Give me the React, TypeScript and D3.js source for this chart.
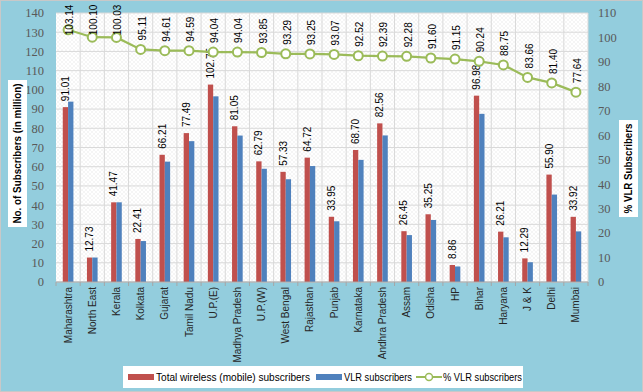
import React from "react";
import * as d3 from "d3";

// circles / LSAs along the x axis
const circles: string[] = [
  "Maharashtra", "North East", "Kerala", "Kolkata", "Gujarat", "Tamil Nadu",
  "U.P.(E)", "Madhya Pradesh", "U.P.(W)", "West Bengal", "Rajasthan", "Punjab",
  "Karnataka", "Andhra Pradesh", "Assam", "Odisha", "HP", "Bihar", "Haryana",
  "J & K", "Delhi", "Mumbai",
];

// total wireless subscribers (million)
const totalSubs: number[] = [
  91.01, 12.73, 41.47, 22.41, 66.21, 77.49, 102.75, 81.05, 62.79, 57.33, 64.72,
  33.95, 68.7, 82.56, 26.45, 35.25, 8.86, 96.98, 26.21, 12.29, 55.9, 33.92,
];

// VLR subscribers (million)
const vlrSubs: number[] = [
  93.87, 12.74, 41.48, 21.31, 62.64, 73.3, 96.63, 76.22, 58.93, 53.48, 60.35,
  31.6, 63.56, 76.28, 24.41, 32.29, 8.08, 87.52, 23.26, 10.28, 45.5, 26.34,
];

// % VLR subscribers
const vlrPct: number[] = [
  103.14, 100.1, 100.03, 95.11, 94.61, 94.59, 94.04, 94.04, 93.85, 93.29, 93.25,
  93.07, 92.52, 92.39, 92.28, 91.6, 91.15, 90.24, 88.75, 83.66, 81.4, 77.64,
];

const leftTicks = d3.range(0, 141, 10);
const rightTicks = d3.range(0, 111, 10);

const W = 643;
const H = 392;
const plot = { left: 56, right: 588, top: 13, bottom: 282 };

const RED = "#C0504D";
const BLUE = "#4F81BD";
const GREEN = "#9BBB59";
const BG = "#93CDDD";

const App: React.FC = () => {
  const x = d3
    .scaleBand<string>()
    .domain(circles)
    .range([plot.left, plot.right]);
  const yL = d3.scaleLinear().domain([0, 140]).range([plot.bottom, plot.top]);
  const yR = d3.scaleLinear().domain([0, 110]).range([plot.bottom, plot.top]);
  const barW = x.bandwidth() * 0.22;
  const cx = (c: string) => (x(c) as number) + x.bandwidth() / 2;

  const line = d3
    .line<number>()
    .x((_, i) => cx(circles[i]))
    .y((d) => yR(d));

  const tickFont = "'Liberation Serif', serif";
  const labelFont = "'Liberation Sans', Arial, sans-serif";

  return (
    <svg
      width={W}
      height={H}
      style={{ position: "fixed", left: 0, top: 0, display: "block" }}
    >
      <defs>
        <pattern id="hatch" width="4" height="4" patternUnits="userSpaceOnUse">
          <rect width="4" height="4" fill="#ffffff" />
          <path d="M0,4 L4,0 M0,0 L4,4" stroke="#efefef" strokeWidth="0.6" />
        </pattern>
      </defs>

      {/* chart background */}
      <rect x={0.5} y={0.5} width={W - 1} height={H - 1} fill={BG} stroke="#c8c8c8" />

      {/* plot area */}
      <rect
        x={plot.left}
        y={plot.top}
        width={plot.right - plot.left}
        height={plot.bottom - plot.top}
        fill="url(#hatch)"
      />

      {/* gridlines */}
      {leftTicks.map((t) => (
        <line
          key={"h" + t}
          x1={plot.left}
          x2={plot.right}
          y1={yL(t)}
          y2={yL(t)}
          stroke="#d9d9d9"
        />
      ))}
      {circles.map((c) => (
        <line
          key={"v" + c}
          x1={(x(c) as number) + x.bandwidth()}
          x2={(x(c) as number) + x.bandwidth()}
          y1={plot.top}
          y2={plot.bottom}
          stroke="#d9d9d9"
        />
      ))}

      {/* bars */}
      {circles.map((c, i) => (
        <g key={"b" + c}>
          <rect
            x={cx(c) - barW}
            y={yL(totalSubs[i])}
            width={barW}
            height={plot.bottom - yL(totalSubs[i])}
            fill={RED}
          />
          <rect
            x={cx(c)}
            y={yL(vlrSubs[i])}
            width={barW}
            height={plot.bottom - yL(vlrSubs[i])}
            fill={BLUE}
          />
        </g>
      ))}

      {/* x axis line + ticks */}
      <line x1={plot.left} x2={plot.right} y1={plot.bottom} y2={plot.bottom} stroke="#a6a6a6" />
      {[plot.left, ...circles.map((c) => (x(c) as number) + x.bandwidth())].map((px, i) => (
        <line key={"t" + i} x1={px} x2={px} y1={plot.bottom} y2={plot.bottom + 4} stroke="#a6a6a6" />
      ))}

      {/* bar value labels */}
      {circles.map((c, i) => {
        const bx = cx(c) - barW / 2;
        const by = yL(totalSubs[i]) - 6;
        return (
          <text
            key={"bl" + c}
            transform={`translate(${bx},${by}) rotate(-90)`}
            dy="0.35em"
            fontFamily={labelFont}
            fontSize={10}
            fill="#000"
          >
            {totalSubs[i].toFixed(2)}
          </text>
        );
      })}

      {/* % VLR line */}
      <path d={line(vlrPct) || ""} fill="none" stroke={GREEN} strokeWidth={2.25} />
      {vlrPct.map((v, i) => (
        <circle
          key={"m" + i}
          cx={cx(circles[i])}
          cy={yR(v)}
          r={4.5}
          fill="#fff"
          stroke={GREEN}
          strokeWidth={2}
        />
      ))}
      {vlrPct.map((v, i) => {
        const label = v.toFixed(2);
        const len = label.length * 5.2;
        let by = yR(v) - 9;
        if (by - len < 4) by = 4 + len;
        return (
          <text
            key={"ll" + i}
            transform={`translate(${cx(circles[i]) + 1.5},${by}) rotate(-90)`}
            dy="0.35em"
            fontFamily={labelFont}
            fontSize={10}
            fill="#000"
          >
            {label}
          </text>
        );
      })}

      {/* left axis ticks */}
      {leftTicks.map((t) => (
        <text
          key={"lt" + t}
          x={44}
          y={yL(t)}
          dy="0.35em"
          textAnchor="end"
          fontFamily={tickFont}
          fontSize={12.5}
          fill="#595959"
        >
          {t}
        </text>
      ))}
      {/* right axis ticks */}
      {rightTicks.map((t) => (
        <text
          key={"rt" + t}
          x={598}
          y={yR(t)}
          dy="0.35em"
          fontFamily={tickFont}
          fontSize={12.5}
          fill="#595959"
        >
          {t}
        </text>
      ))}

      {/* category labels */}
      {circles.map((c) => (
        <text
          key={"xl" + c}
          transform={`translate(${cx(c)},${plot.bottom + 5}) rotate(-90)`}
          dy="0.35em"
          textAnchor="end"
          fontFamily={labelFont}
          fontSize={10}
          fill="#262626"
        >
          {c}
        </text>
      ))}

      {/* axis titles */}
      <rect x={8} y={80} width={19} height={147} fill="#fff" />
      <text
        transform="translate(17.5,153.5) rotate(-90)"
        dy="0.35em"
        textAnchor="middle"
        fontFamily={labelFont}
        fontWeight="bold"
        fontSize={10.5}
        textLength={140}
        lengthAdjust="spacingAndGlyphs"
        fill="#000"
      >
        No. of Subscribers (in million)
      </text>
      <rect x={619} y={120} width={19} height={97} fill="#fff" />
      <text
        transform="translate(628.5,168.5) rotate(-90)"
        dy="0.35em"
        textAnchor="middle"
        fontFamily={labelFont}
        fontWeight="bold"
        fontSize={10.5}
        textLength={90}
        lengthAdjust="spacingAndGlyphs"
        fill="#000"
      >
        % VLR Subscribers
      </text>

      {/* legend */}
      <g>
        <rect x={123} y={366} width={400} height={22} fill="#fff" />
        <rect x={128} y={374} width={26} height={6} fill={RED} />
        <text x={156} y={377} dy="0.35em" fontFamily={labelFont} fontSize={10.5}
          textLength={154} lengthAdjust="spacingAndGlyphs" fill="#000">
          Total  wireless (mobile) subscribers
        </text>
        <rect x={316} y={374} width={26} height={6} fill={BLUE} />
        <text x={344} y={377} dy="0.35em" fontFamily={labelFont} fontSize={10.5}
          textLength={68} lengthAdjust="spacingAndGlyphs" fill="#000">
          VLR subscribers
        </text>
        <line x1={416} x2={442} y1={377} y2={377} stroke={GREEN} strokeWidth={2} />
        <circle cx={429} cy={377} r={3.5} fill="#fff" stroke={GREEN} strokeWidth={1.5} />
        <text x={443} y={377} dy="0.35em" fontFamily={labelFont} fontSize={10.5}
          textLength={79} lengthAdjust="spacingAndGlyphs" fill="#000">
          % VLR subscribers
        </text>
      </g>
    </svg>
  );
};

export default App;
